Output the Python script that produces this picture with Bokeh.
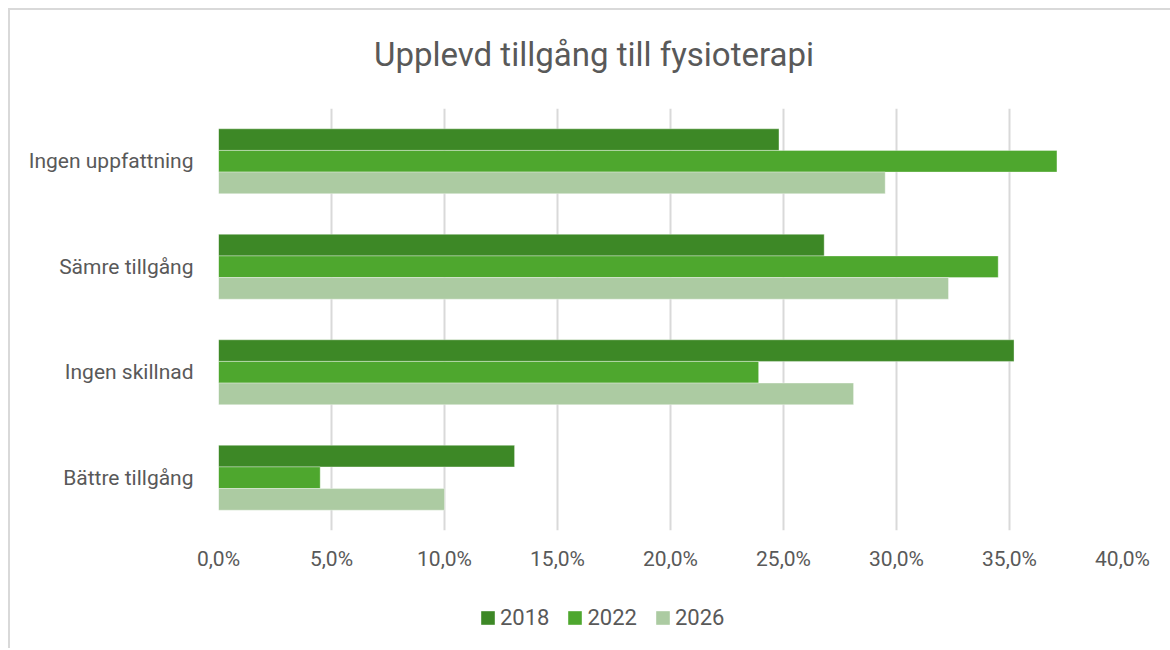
from bokeh.plotting import figure
from bokeh.layouts import column
from bokeh.models import ColumnDataSource, FactorRange, FixedTicker, Legend, LegendItem, Range1d, Div
from bokeh.transform import dodge
from bokeh.embed import file_html
from bokeh.resources import INLINE

categories = ["Bättre tillgång", "Ingen skillnad", "Sämre tillgång", "Ingen uppfattning"]
years = ["2018", "2022", "2026"]
v2018 = [13.1, 35.2, 26.8, 24.8]
v2022 = [4.5, 23.9, 34.5, 37.1]
v2026 = [10.0, 28.1, 32.3, 29.5]
colors = ["#3d8826", "#4ea72e", "#accba2"]
tick_values = [0, 5, 10, 15, 20, 25, 30, 35, 40]
tick_labels = ["0,0%", "5,0%", "10,0%", "15,0%", "20,0%", "25,0%", "30,0%", "35,0%", "40,0%"]
title_text = "Upplevd tillgång till fysioterapi"

src = ColumnDataSource(dict(cat=categories, y2018=v2018, y2022=v2022, y2026=v2026))

FONT = "Roboto"
GREY = "#595959"
W = 1158

# title strip
title = Div(text=('<div style="position:relative; left:359px; top:23px; font-family:Roboto; '
                  'font-size:33px; line-height:33px; color:#595959; white-space:nowrap;">'
                  + title_text + '</div>'),
            width=W, height=88)

p = figure(width=W, height=482, output_backend="svg", toolbar_location=None,
           y_range=FactorRange(*categories), x_range=Range1d(0, 40),
           min_border_left=208, min_border_right=46, min_border_top=0, min_border_bottom=60)
p.y_range.range_padding = 0
p.outline_line_color = None

offsets = [0.205, 0.0, -0.205]
fields = ["y2018", "y2022", "y2026"]
for f, off, c in zip(fields, offsets, colors):
    p.hbar(y=dodge("cat", off, range=p.y_range), right=f, left=0, height=0.205,
           source=src, fill_color=c, line_color="white", line_width=0.6, line_alpha=0.6)

p.xaxis.ticker = FixedTicker(ticks=tick_values)
p.xaxis.major_label_overrides = {t: l for t, l in zip(tick_values, tick_labels)}
p.xaxis.axis_line_color = None
p.xaxis.major_tick_line_color = None
p.xaxis.minor_tick_line_color = None
p.xaxis.major_label_standoff = 10
p.xaxis.major_label_text_font = FONT
p.xaxis.major_label_text_font_size = "21px"
p.xaxis.major_label_text_color = GREY

p.yaxis.axis_line_color = None
p.yaxis.major_tick_line_color = None
p.yaxis.major_label_standoff = 19
p.yaxis.major_label_text_font = FONT
p.yaxis.major_label_text_font_size = "21px"
p.yaxis.major_label_text_color = GREY

p.xgrid.grid_line_color = "#d9d9d9"
p.xgrid.grid_line_width = 2
p.ygrid.grid_line_color = None

# legend strip below the chart (frames are aligned with the chart above)
lf = figure(width=W, height=58, output_backend="svg", toolbar_location=None,
            x_range=Range1d(0, 1), y_range=Range1d(0, 1),
            x_axis_location=None, y_axis_location=None,
            min_border_left=0, min_border_right=0, min_border_top=0, min_border_bottom=0)
lf.outline_line_color = None
lf.xgrid.visible = False
lf.ygrid.visible = False
lrs = [lf.hbar(y=[-5], right=[6], left=[5], height=0.5, fill_color=c, line_color=None)
       for c in colors]
legend = Legend(items=[LegendItem(label=y, renderers=[r]) for y, r in zip(years, lrs)],
                orientation="horizontal", location=(261, 18), padding=0, margin=0,
                spacing=17, label_standoff=4, glyph_width=17, glyph_height=17,
                label_text_font=FONT, label_text_font_size="22px", label_text_color=GREY,
                border_line_color=None, background_fill_alpha=0)
lf.add_layout(legend, "center")

layout = column(title, p, lf, spacing=0,
                styles={"margin-left": "8px", "margin-top": "8px",
                        "border-left": "2px solid #d9d9d9", "border-top": "2px solid #d9d9d9"})

open("out.html", "w").write(file_html(layout, INLINE))
